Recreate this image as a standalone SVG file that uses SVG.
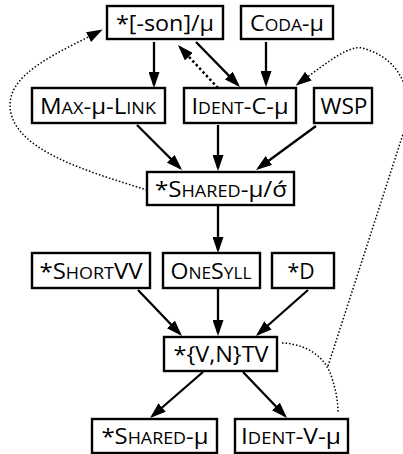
<svg xmlns="http://www.w3.org/2000/svg" width="403" height="454" viewBox="0 0 403 454">
<style>
.box{fill:#fff;stroke:#000;stroke-width:2.4}
text{font-family:"Open Sans","Liberation Sans",sans-serif;font-size:22px;fill:#000;text-anchor:middle}
.sc{font-size:16.5px}
.e{fill:none;stroke:#000;stroke-width:2.3;marker-end:url(#ah)}
.d{fill:none;stroke:#000;stroke-width:1.5;stroke-dasharray:1.5 2}
.dt{fill:none;stroke:#000;stroke-width:2.5;stroke-dasharray:2.5 2.5;marker-end:url(#ah)}
</style>
<defs>
<marker id="ah" viewBox="0 0 16 11" refX="13" refY="5.5" markerWidth="16" markerHeight="11" markerUnits="userSpaceOnUse" orient="auto">
<path d="M0,0 L16,5.5 L0,11 Z" fill="#000"/>
</marker>
</defs>
<g id="connectors">
<line class="e" x1="154" y1="42" x2="154" y2="85"/>
<line class="e" x1="196" y1="42" x2="237.9" y2="84.9"/>
<line class="dt" x1="218" y1="88" x2="180" y2="47.2"/>
<line class="e" x1="266" y1="42" x2="266" y2="84"/>
<line class="e" x1="137" y1="125" x2="179.9" y2="167.9"/>
<line class="e" x1="218" y1="125" x2="218" y2="168"/>
<line class="e" x1="316" y1="126" x2="258.4" y2="168.2"/>
<line class="e" x1="218" y1="206" x2="218" y2="250"/>
<line class="e" x1="138" y1="290" x2="179.9" y2="333.8"/>
<line class="e" x1="218" y1="289" x2="218" y2="333"/>
<line class="e" x1="308" y1="290" x2="258.2" y2="334"/>
<line class="e" x1="203" y1="372" x2="152.3" y2="416"/>
<line class="e" x1="243" y1="372" x2="284.9" y2="415.8"/>
<path class="d" d="M147,190 C90,172 10,150 10,105 C10,72 60,52 100,31" marker-end="url(#ah)"/>
<path class="d" d="M328,366 L405,128 C413,103 408,60 362,48 C350,45 330,60 298,84" marker-end="url(#ah)"/>
<path class="d" d="M282,343 C308,344 325,358 331,375 C336,390 338,402 338,412"/>
</g>
<g id="n1"><rect class="box" x="107" y="6" width="116" height="33"/><text x="165" y="31" textLength="98" lengthAdjust="spacingAndGlyphs">*[-son]/μ</text></g>
<g id="n2"><rect class="box" x="241" y="6" width="92" height="33"/><text x="287" y="31" textLength="74" lengthAdjust="spacingAndGlyphs">C<tspan class="sc">ODA</tspan>-μ</text></g>
<g id="n3"><rect class="box" x="32" y="88" width="133" height="35"/><text x="98" y="114" textLength="116" lengthAdjust="spacingAndGlyphs">M<tspan class="sc">AX</tspan>-μ-L<tspan class="sc">INK</tspan></text></g>
<g id="n4"><rect class="box" x="184" y="88" width="112" height="35"/><text x="240" y="114" textLength="97" lengthAdjust="spacingAndGlyphs">I<tspan class="sc">DENT</tspan>-C-μ</text></g>
<g id="n5"><rect class="box" x="314" y="88" width="58" height="35"/><text x="344" y="114" textLength="47" lengthAdjust="spacingAndGlyphs">WSP</text></g>
<g id="n6"><rect class="box" x="147" y="172" width="147" height="33"/><text x="221" y="196.5" textLength="132" lengthAdjust="spacingAndGlyphs">*S<tspan class="sc">HARED</tspan>-μ/σ́</text></g>
<g id="n7"><rect class="box" x="32" y="253" width="118" height="35"/><text x="91" y="279" textLength="103" lengthAdjust="spacingAndGlyphs">*S<tspan class="sc">HORT</tspan>VV</text></g>
<g id="n8"><rect class="box" x="163" y="253" width="97" height="35"/><text x="211" y="279" textLength="81" lengthAdjust="spacingAndGlyphs">O<tspan class="sc">NE</tspan>S<tspan class="sc">YLL</tspan></text></g>
<g id="n9"><rect class="box" x="272" y="253" width="62" height="35"/><text x="301" y="279" textLength="27" lengthAdjust="spacingAndGlyphs">*D</text></g>
<g id="n10"><rect class="box" x="164" y="337" width="113" height="34"/><text x="221" y="362" textLength="95" lengthAdjust="spacingAndGlyphs">*{V,N}TV</text></g>
<g id="n11"><rect class="box" x="92" y="419" width="125" height="34"/><text x="155" y="444" textLength="107" lengthAdjust="spacingAndGlyphs">*S<tspan class="sc">HARED</tspan>-μ</text></g>
<g id="n12"><rect class="box" x="235" y="419" width="113" height="34"/><text x="291" y="444" textLength="100" lengthAdjust="spacingAndGlyphs">I<tspan class="sc">DENT</tspan>-V-μ</text></g>
</svg>
